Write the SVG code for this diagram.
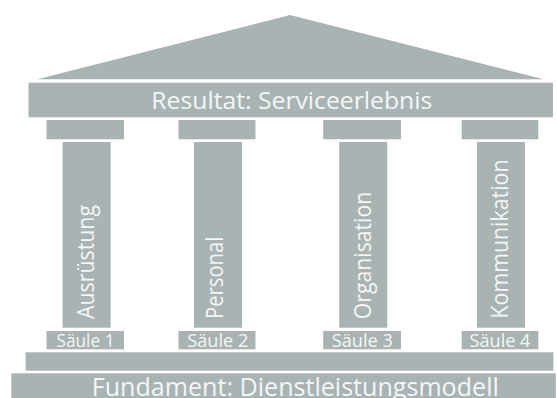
<svg xmlns="http://www.w3.org/2000/svg" width="557" height="398" viewBox="0 0 557 398">
  <style>
    .stone { fill: #a9b3b3; }
    .lbl { fill: #f4f6f6; font-family: "Open Sans", "Liberation Sans", sans-serif; font-weight: 400; }
    .big { font-size: 24px; text-anchor: middle; }
    .col { font-size: 23px; }
    .tag { font-size: 17.5px; text-anchor: middle; }
  </style>
  <rect width="557" height="398" fill="#ffffff"/>

  <!-- roof and entablature -->
  <g id="roof">
    <polygon class="stone" points="290,15 543.7,79.3 37.3,79.3"/>
  </g>
  <g id="resultat">
    <rect class="stone" x="28.5" y="82.7" width="524.5" height="34.6"/>
    <text class="lbl big" x="291.8" y="109.3" textLength="281" lengthAdjust="spacingAndGlyphs">Resultat: Serviceerlebnis</text>
  </g>

  <!-- pillars: capital, shaft, base -->
  <g id="saeule1">
    <rect class="stone" x="46.5" y="120" width="77.5" height="19.3"/>
    <rect class="stone" x="62.6" y="142" width="48" height="185.7"/>
    <text class="lbl col" transform="translate(94.4,319) rotate(-90)" textLength="114" lengthAdjust="spacingAndGlyphs">Ausrüstung</text>
    <rect class="stone" x="46.5" y="331" width="77.5" height="18.3"/>
    <text class="lbl tag" x="85.5" y="346.7" textLength="58" lengthAdjust="spacingAndGlyphs">Säule 1</text>
  </g>
  <g id="saeule2">
    <rect class="stone" x="178.5" y="120" width="77" height="19.3"/>
    <rect class="stone" x="194" y="142" width="48" height="185.7"/>
    <text class="lbl col" transform="translate(223.4,319) rotate(-90)" textLength="82.3" lengthAdjust="spacingAndGlyphs">Personal</text>
    <rect class="stone" x="178.5" y="331" width="77" height="18.3"/>
    <text class="lbl tag" x="217.8" y="346.7" textLength="61" lengthAdjust="spacingAndGlyphs">Säule 2</text>
  </g>
  <g id="saeule3">
    <rect class="stone" x="323.2" y="120" width="77.8" height="19.3"/>
    <rect class="stone" x="339.2" y="142" width="48" height="185.7"/>
    <text class="lbl col" transform="translate(371,319.3) rotate(-90)" textLength="127.6" lengthAdjust="spacingAndGlyphs">Organisation</text>
    <rect class="stone" x="323.2" y="331" width="77.8" height="18.3"/>
    <text class="lbl tag" x="362.3" y="346.7" textLength="61" lengthAdjust="spacingAndGlyphs">Säule 3</text>
  </g>
  <g id="saeule4">
    <rect class="stone" x="461.7" y="120" width="76.6" height="19.3"/>
    <rect class="stone" x="477" y="142" width="48" height="185.7"/>
    <text class="lbl col" transform="translate(508.3,318.5) rotate(-90)" textLength="159" lengthAdjust="spacingAndGlyphs">Kommunikation</text>
    <rect class="stone" x="461.7" y="331" width="76.6" height="18.3"/>
    <text class="lbl tag" x="500" y="346.7" textLength="61" lengthAdjust="spacingAndGlyphs">Säule 4</text>
  </g>

  <!-- steps and foundation -->
  <g id="stufe">
    <rect class="stone" x="25.6" y="352.3" width="527.8" height="18.4"/>
  </g>
  <g id="fundament">
    <rect class="stone" x="11.3" y="373.3" width="544.5" height="24.7"/>
    <text class="lbl big" x="295.3" y="396.3" style="font-size:25.5px" textLength="407" lengthAdjust="spacingAndGlyphs">Fundament: Dienstleistungsmodell</text>
  </g>

  <!-- no connectors in this figure -->
  <g id="connectors"/>
</svg>
